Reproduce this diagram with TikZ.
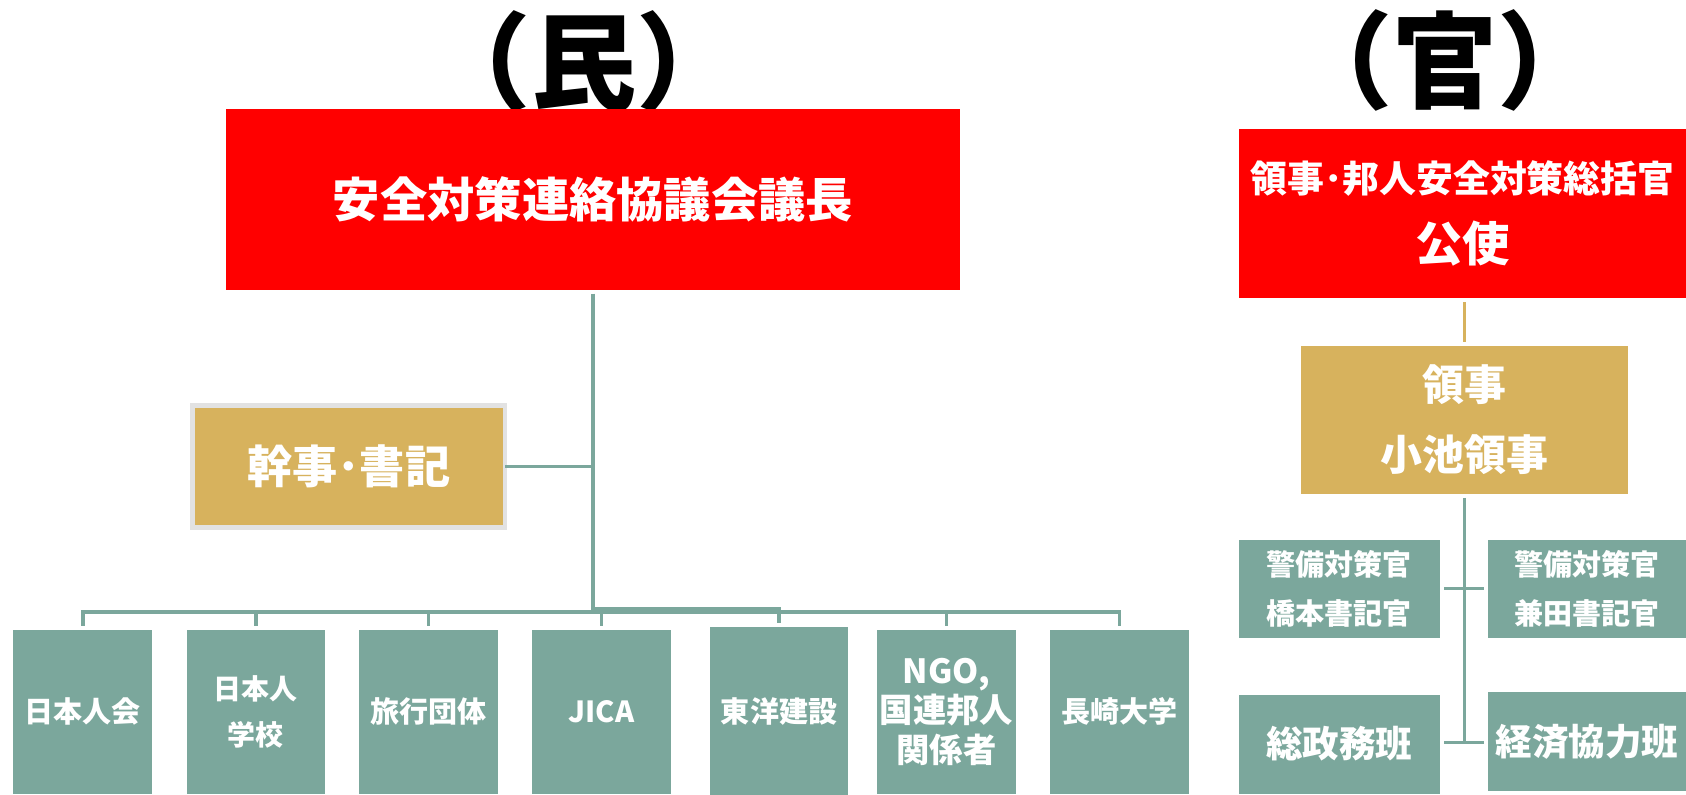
\documentclass[tikz,border=0pt]{standalone}
\usepackage{fontspec}
\setmainfont{Noto Sans CJK JP}
\usetikzlibrary{calc}
\definecolor{cred}{HTML}{FF0000}
\definecolor{cgold}{HTML}{D7B25D}
\definecolor{cteal}{HTML}{7BA79C}
\definecolor{cborder}{HTML}{E2E2E2}
\newcommand\myfs[2]{\fontsize{#1}{#2}\selectfont}
\begin{document}
\begin{tikzpicture}[x=1pt,y=-1pt,
  box/.style={rectangle, inner sep=0pt, outer sep=0pt, text=white, align=center},
  redbox/.style={box, fill=cred},
  goldbox/.style={box, fill=cgold},
  tealbox/.style={box, fill=cteal},
  lowbox/.style={tealbox, minimum width=129pt, minimum height=152pt, font=\bfseries\myfs{27}{43}},
  conn/.style={draw=cteal, line width=3.2pt},
  goldconn/.style={draw=cgold, line width=3.6pt},
  titletext/.style={font=\bfseries\myfs{98}{100}, inner sep=0pt, text=black}
]
\useasboundingbox (0,0) rectangle (1568,739);

% titles
\node[titletext] (tmin) at (543,57) {（民）};
\node[titletext] (tkan) at (1344,56) {（官）};

% left (min) side
\node[redbox, minimum width=683pt, minimum height=169pt, font=\bfseries\myfs{44}{50}] (chair) at (551.5,185.5) {安全対策連絡協議会議長};
\node[goldbox, draw=cborder, line width=4pt, minimum width=290.5pt, minimum height=113.5pt, font=\bfseries\myfs{42}{50}] (kaiji) at (324.25,433.75) {幹事･書記};

\node[lowbox] (b1) at (77,662) {日本人会};
\node[lowbox, font=\bfseries\myfs{26}{43}] (b2) at (238,662) {日本人\\学校};
\node[lowbox] (b3) at (398.25,662) {旅行団体};
\node[lowbox] (b4) at (559.25,662) {JICA};
\node[lowbox, minimum height=157pt] (b5) at (724.5,661.5) {東洋建設};
\node[lowbox, font=\bfseries\myfs{31}{37}] (b6) at (880.25,662) {NGO,\\国連邦人\\関係者};
\node[lowbox] (b7) at (1041,662) {長崎大学};

% right (kan) side
\node[redbox, minimum width=416pt, minimum height=157pt, font=\bfseries\myfs{34.3}{65}] (kanbox) at (1360,198.5) {領事･邦人安全対策総括官\\{\myfs{44}{65}公使}};
\node[goldbox, minimum width=304pt, minimum height=137pt, font=\bfseries\myfs{39}{65}] (ryoji) at (1362,390.5) {領事\\小池領事};
\node[tealbox, minimum width=187pt, minimum height=91pt, font=\bfseries\myfs{27}{46}] (k1) at (1245.5,547.5) {警備対策官\\橋本書記官};
\node[tealbox, minimum width=184pt, minimum height=91pt, font=\bfseries\myfs{27}{46}] (k2) at (1476,547.5) {警備対策官\\兼田書記官};
\node[tealbox, minimum width=187pt, minimum height=92pt, font=\bfseries\myfs{34}{40}] (somu) at (1245.5,692) {総政務班};
\node[tealbox, minimum width=184pt, minimum height=91.5pt, font=\bfseries\myfs{34}{40}] (keizai) at (1476,689.75) {経済協力班};

% left connectors
\coordinate (hub) at (551.5,569);
\draw[conn] ($(chair.south)+(0,3)$) -- (hub);
\draw[conn] (kaiji.east) -- (kaiji.east -| hub);
\foreach \b in {b1,b2,b3,b4,b6,b7}
  \draw[conn] (hub) -| ($(\b.north)+(0,-4)$);
\draw[conn] ($(hub)+(0,-2.5)$) -| ($(b5.north)+(0,-4)$);

% right connectors
\coordinate (rlow) at (1362,690.7);
\draw[goldconn] ($(kanbox.south -| ryoji.north)+(0,4)$) -- ($(ryoji.north)+(0,-4)$);
\draw[conn] ($(ryoji.south)+(0,4)$) -- (ryoji.south |- rlow);
\draw[conn] ($(k1.east)+(4,0)$) -- ($(k2.west)+(-4,0)$);
\draw[conn] ($(somu.east |- rlow)+(4,0)$) -- ($(keizai.west |- rlow)+(-4,0)$);
\end{tikzpicture}
\end{document}
